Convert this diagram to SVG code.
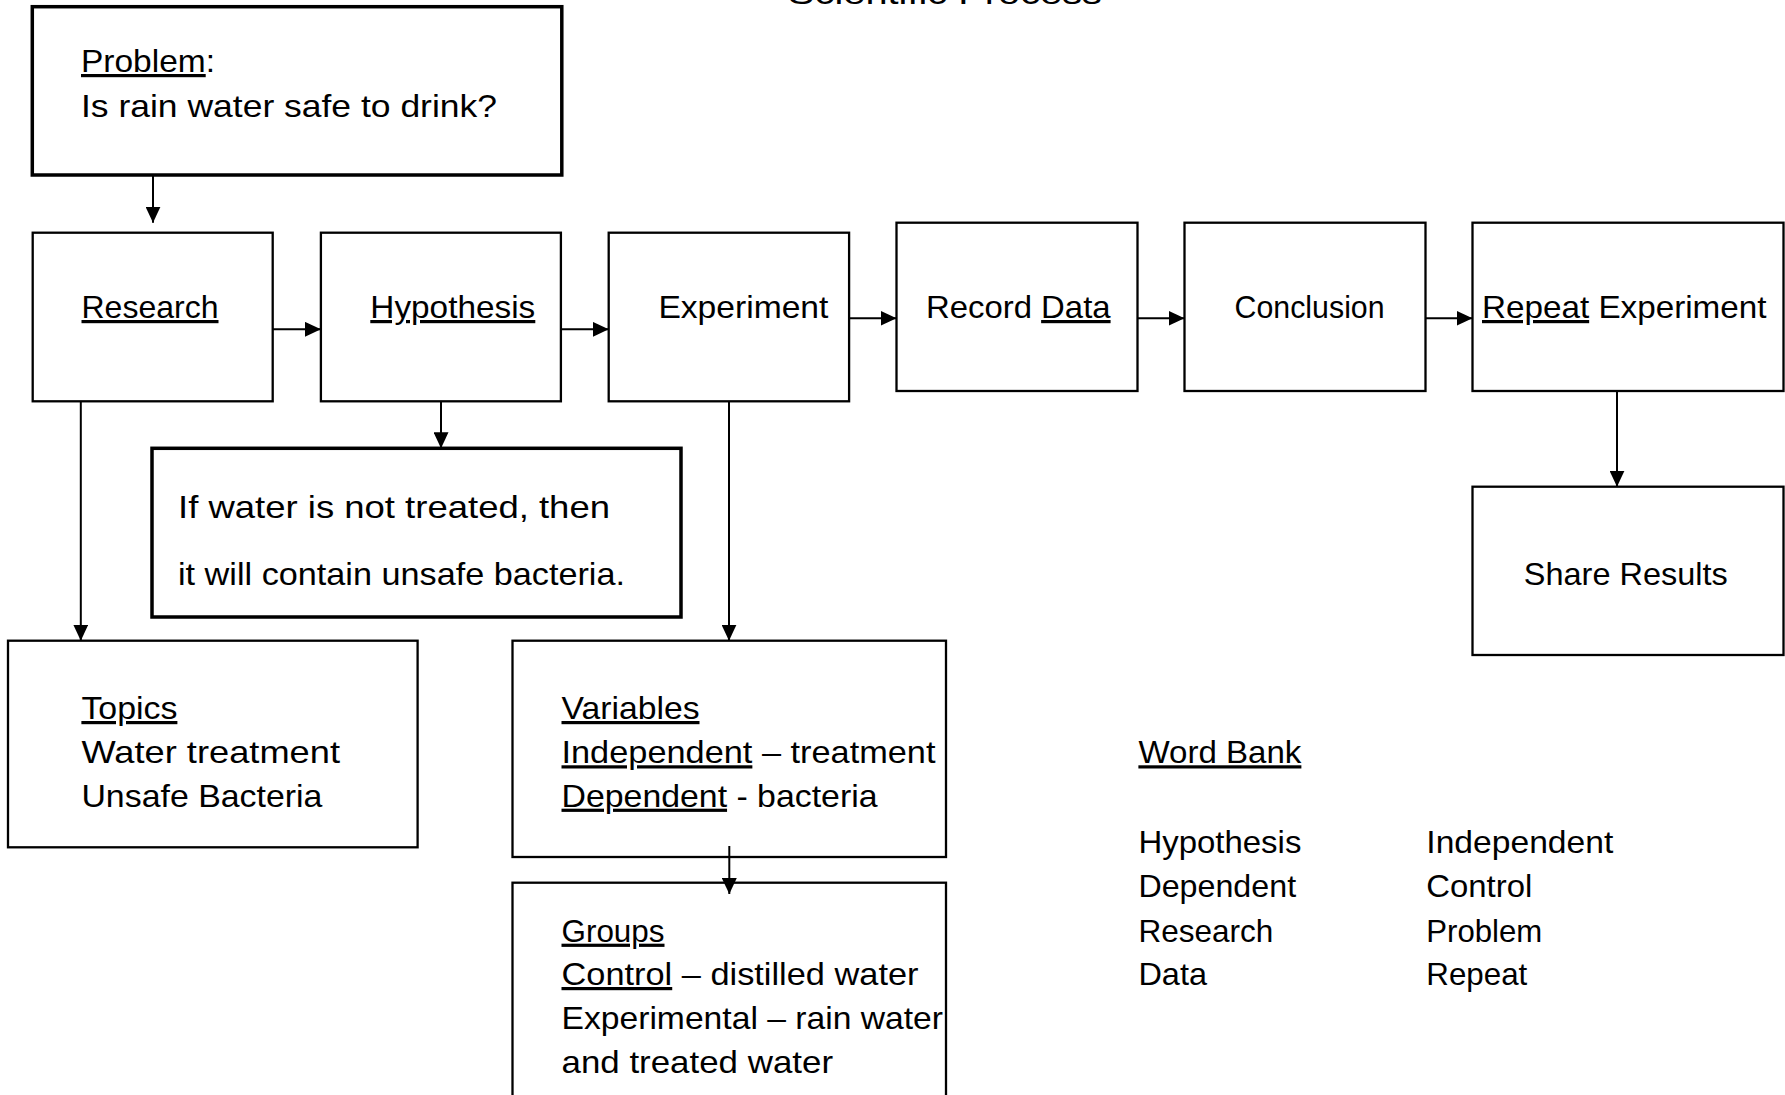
<svg xmlns="http://www.w3.org/2000/svg" width="1785" height="1095" viewBox="0 0 1785 1095">
<defs>
<style>
.box{fill:#fff;stroke:#000;stroke-width:2.3}
.thick{stroke-width:3.5}
.t{font-family:"Liberation Sans",Arial,sans-serif;font-size:32px;fill:#000}
.u{text-decoration:underline}
.c{stroke:#000;stroke-width:2;fill:none;marker-end:url(#ah)}
</style>
<marker id="ah" markerUnits="userSpaceOnUse" markerWidth="16" markerHeight="15" refX="16" refY="7.5" orient="auto"><path d="M0,0 L16,7.5 L0,15 z" fill="#000"/></marker>
</defs>
<rect width="1785" height="1095" fill="#fff"/>
<text id="title" class="t" x="788" y="3.5" textLength="314" lengthAdjust="spacingAndGlyphs">Scientific Process</text>

<g id="problem">
<rect class="box thick" x="32.3" y="6.7" width="529.5" height="168.3"/>
<text class="t" x="81" y="72" textLength="134" lengthAdjust="spacingAndGlyphs"><tspan class="u">Problem</tspan>:</text>
<text class="t" x="81" y="117" textLength="416" lengthAdjust="spacingAndGlyphs">Is rain water safe to drink?</text>
</g>
<g id="research">
<rect class="box" x="32.7" y="232.7" width="240" height="168.6"/>
<text class="t u" x="81.5" y="318" textLength="137" lengthAdjust="spacingAndGlyphs">Research</text>
</g>
<g id="hypothesis">
<rect class="box" x="320.9" y="232.7" width="240" height="168.6"/>
<text class="t u" x="370.3" y="318" textLength="165" lengthAdjust="spacingAndGlyphs">Hypothesis</text>
</g>
<g id="experiment">
<rect class="box" x="608.7" y="232.7" width="240.4" height="168.6"/>
<text class="t" x="658.4" y="318" textLength="170" lengthAdjust="spacingAndGlyphs">Experiment</text>
</g>
<g id="record-data">
<rect class="box" x="896.5" y="222.7" width="241" height="168.3"/>
<text class="t" x="926" y="318" textLength="184.6" lengthAdjust="spacingAndGlyphs">Record <tspan class="u">Data</tspan></text>
</g>
<g id="conclusion">
<rect class="box" x="1184.5" y="222.7" width="241" height="168.3"/>
<text class="t" x="1234.6" y="318" textLength="150" lengthAdjust="spacingAndGlyphs">Conclusion</text>
</g>
<g id="repeat-experiment">
<rect class="box" x="1472.5" y="222.7" width="311" height="168.3"/>
<text class="t" x="1482" y="318" textLength="284.5" lengthAdjust="spacingAndGlyphs"><tspan class="u">Repeat</tspan> Experiment</text>
</g>
<g id="share-results">
<rect class="box" x="1472.5" y="486.7" width="311" height="168.3"/>
<text class="t" x="1523.8" y="585" textLength="204" lengthAdjust="spacingAndGlyphs">Share Results</text>
</g>
<g id="hypothesis-statement">
<rect class="box thick" x="152" y="448.3" width="529" height="168.7"/>
<text class="t" x="178" y="518" textLength="432" lengthAdjust="spacingAndGlyphs">If water is not treated, then</text>
<text class="t" x="178" y="585" textLength="447" lengthAdjust="spacingAndGlyphs">it will contain unsafe bacteria.</text>
</g>
<g id="topics">
<rect class="box" x="8" y="640.7" width="409.6" height="206.6"/>
<text class="t u" x="81.4" y="719" textLength="96" lengthAdjust="spacingAndGlyphs">Topics</text>
<text class="t" x="81.4" y="763.3" textLength="258.6" lengthAdjust="spacingAndGlyphs">Water treatment</text>
<text class="t" x="81.4" y="806.7" textLength="241" lengthAdjust="spacingAndGlyphs">Unsafe Bacteria</text>
</g>
<g id="variables">
<rect class="box" x="512.5" y="640.7" width="433.5" height="216.3"/>
<text class="t u" x="561.5" y="719" textLength="138" lengthAdjust="spacingAndGlyphs">Variables</text>
<text class="t" x="561.5" y="763.3" textLength="374" lengthAdjust="spacingAndGlyphs"><tspan class="u">Independent</tspan> – treatment</text>
<text class="t" x="561.5" y="806.7" textLength="316" lengthAdjust="spacingAndGlyphs"><tspan class="u">Dependent</tspan> - bacteria</text>
</g>
<g id="groups">
<rect class="box" x="512.5" y="882.7" width="433.5" height="230"/>
<text class="t u" x="561.5" y="941.7" textLength="103" lengthAdjust="spacingAndGlyphs">Groups</text>
<text class="t" x="561.5" y="985" textLength="357" lengthAdjust="spacingAndGlyphs"><tspan class="u">Control</tspan> – distilled water</text>
<text class="t" x="561.5" y="1029.3" textLength="381.5" lengthAdjust="spacingAndGlyphs">Experimental – rain water</text>
<text class="t" x="561.5" y="1073.3" textLength="271.5" lengthAdjust="spacingAndGlyphs">and treated water</text>
</g>
<g id="word-bank">
<text class="t u" x="1138.4" y="763.3" textLength="163" lengthAdjust="spacingAndGlyphs">Word Bank</text>
<text class="t" x="1138.4" y="853.3" textLength="163" lengthAdjust="spacingAndGlyphs">Hypothesis</text>
<text class="t" x="1138.4" y="896.7" textLength="157.7" lengthAdjust="spacingAndGlyphs">Dependent</text>
<text class="t" x="1138.4" y="941.7" textLength="135" lengthAdjust="spacingAndGlyphs">Research</text>
<text class="t" x="1138.4" y="985" textLength="68.6" lengthAdjust="spacingAndGlyphs">Data</text>
<text class="t" x="1426.3" y="853.3" textLength="187" lengthAdjust="spacingAndGlyphs">Independent</text>
<text class="t" x="1426.3" y="896.7" textLength="106" lengthAdjust="spacingAndGlyphs">Control</text>
<text class="t" x="1426.3" y="941.7" textLength="116" lengthAdjust="spacingAndGlyphs">Problem</text>
<text class="t" x="1426.3" y="985" textLength="101" lengthAdjust="spacingAndGlyphs">Repeat</text>
</g>

<g id="connectors">
<line class="c" x1="153" y1="175" x2="153" y2="222.7"/>
<line class="c" x1="272.7" y1="329.3" x2="320.9" y2="329.3"/>
<line class="c" x1="560.9" y1="329.3" x2="608.7" y2="329.3"/>
<line class="c" x1="849.1" y1="318.3" x2="896.5" y2="318.3"/>
<line class="c" x1="1137.5" y1="318.3" x2="1184.5" y2="318.3"/>
<line class="c" x1="1425.5" y1="318.3" x2="1472.5" y2="318.3"/>
<line class="c" x1="1617" y1="391" x2="1617" y2="486.7"/>
<line class="c" x1="80.8" y1="401.3" x2="80.8" y2="640.7"/>
<line class="c" x1="441" y1="401.3" x2="441" y2="448.3"/>
<line class="c" x1="729" y1="401.3" x2="729" y2="640.7"/>
<line class="c" x1="729.3" y1="846" x2="729.3" y2="894"/>
</g>
</svg>
